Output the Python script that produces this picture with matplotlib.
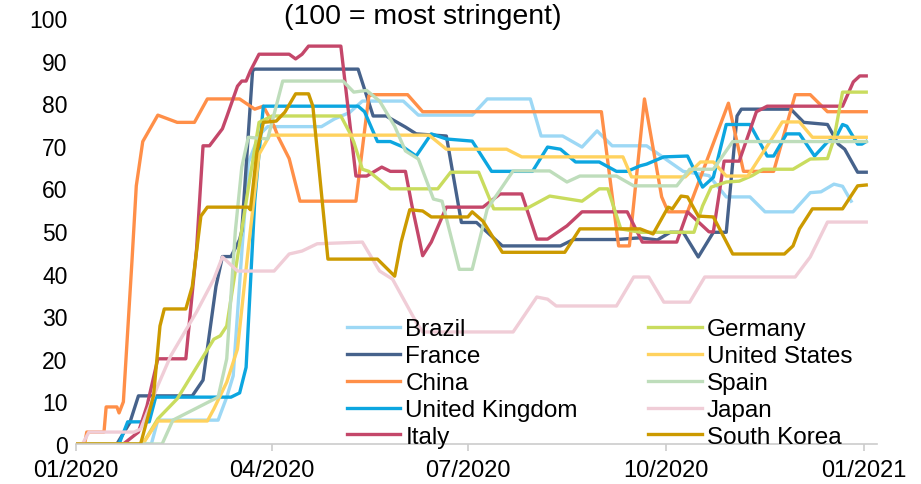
import numpy as np
import matplotlib
matplotlib.use("Agg")
import matplotlib.pyplot as plt
import matplotlib.dates as mdates

plt.rcParams['font.family'] = ['Liberation Sans', 'DejaVu Sans']

# Stringency index, breakpoints as (days since 2020-01-01, value)
brazil_days = [0, 35, 38, 66, 70, 73, 77, 80, 85, 89, 114, 120, 127, 133, 152, 159, 184, 191, 211, 216, 226, 235, 242, 249, 265, 282, 294, 302, 313, 320, 333, 341, 346, 352, 356, 360]
brazil_vals = [0, 0, 5.6, 5.6, 11, 16, 45, 66, 72.5, 74.5, 74.5, 76.3, 77.8, 80.5, 80.5, 77.2, 77.2, 81, 81, 72.3, 72.3, 69.7, 73.5, 70, 70, 64, 63, 58, 58, 54.5, 54.5, 59, 59.2, 61, 60.5, 57]

france_days = [0, 19, 25, 29, 54, 59, 65, 68, 72, 76, 77, 82, 83, 131, 138, 144, 153, 158, 172, 179, 186, 198, 225, 231, 251, 262, 270, 276, 282, 289, 296, 302, 307, 309, 332, 338, 349, 354, 357, 363, 367]
france_vals = [0, 0, 5, 11.3, 11.3, 15, 37, 44, 44, 48, 50, 87.6, 88, 88, 77, 77, 74.4, 72.8, 72.3, 52, 52, 46.5, 46.5, 48, 48, 48.4, 47.9, 49.7, 49.7, 43.9, 49.7, 49.7, 77, 78.6, 78.6, 75.5, 75, 70.4, 69.2, 63.8, 63.8]

china_days = [0, 4, 5, 13, 14, 19, 20, 22, 26, 28, 31, 38, 47, 55, 61, 76, 83, 87, 92, 94, 99, 104, 130, 136, 138, 154, 161, 244, 252, 257, 264, 272, 275, 284, 303, 310, 324, 334, 341, 349, 367]
china_vals = [0, 0, 2.8, 2.8, 8.7, 8.7, 7.3, 9.9, 43, 60.6, 71, 77.2, 75.5, 75.5, 81, 81, 78.6, 79.3, 74.6, 72, 67, 57, 57, 81.7, 82, 82, 78, 78, 46.5, 46.5, 81, 58, 54.5, 54.5, 80, 64, 64, 82, 82, 78, 78]

uk_days = [0, 20, 24, 34, 37, 72, 76, 79, 83, 87, 131, 134, 140, 146, 152, 158, 165, 172, 184, 193, 212, 219, 225, 232, 243, 251, 256, 262, 265, 273, 284, 291, 296, 302, 313, 321, 324, 330, 336, 343, 349, 353, 356, 358, 363, 365, 367]
uk_vals = [0, 0, 5.2, 5.2, 11, 11, 12, 18, 57, 79.3, 79.3, 78, 71, 71, 69.7, 67.6, 72.8, 71.6, 71.1, 64, 64, 69.7, 69.2, 66.2, 66.2, 64, 64, 65.3, 65.7, 67.4, 67.6, 60.3, 62.6, 75, 75, 67.6, 67.6, 72.8, 72.8, 67.6, 70.9, 72, 75, 74.6, 70.4, 70.4, 71]

italy_days = [0, 22, 29, 33, 38, 51, 56, 59, 62, 68, 70, 75, 77, 79, 81, 85, 99, 102, 105, 108, 123, 130, 135, 142, 146, 153, 156, 161, 165, 172, 189, 197, 207, 214, 219, 228, 235, 256, 263, 279, 284, 294, 296, 301, 308, 316, 321, 356, 361, 364, 367]
italy_vals = [0, 0, 2.8, 9, 20, 20, 45.8, 70, 70, 74, 76.8, 84, 85.2, 85.2, 87.6, 91.5, 91.5, 90.4, 91.5, 93.4, 93.4, 62.9, 62.9, 65, 64, 64, 56, 44.2, 47.4, 55.6, 55.6, 58.7, 58.7, 48.1, 48.1, 51.2, 54.5, 54.5, 47.4, 47.4, 54.5, 49.8, 49.8, 66.4, 66.4, 78, 79.3, 79.3, 85, 86.4, 86.4]

germany_days = [0, 31, 38, 47, 64, 67, 70, 80, 85, 91, 123, 127, 129, 133, 136, 146, 168, 174, 187, 194, 209, 220, 235, 243, 247, 253, 262, 287, 291, 295, 302, 308, 314, 319, 333, 341, 349, 352, 356, 367]
germany_vals = [0, 0, 5.9, 10.6, 24.6, 25.4, 27.7, 60, 75.5, 77, 77, 73.2, 70.9, 64.5, 64, 59.9, 59.9, 63.8, 63.8, 55.2, 55.2, 58.2, 57, 59.9, 59.9, 50.5, 49.7, 49.7, 55.9, 60.3, 61.5, 61.7, 63, 64.5, 64.5, 66.9, 67, 71.6, 82.6, 82.6]

us_days = [0, 31, 38, 61, 64, 70, 75, 80, 85, 90, 164, 172, 200, 207, 254, 258, 283, 290, 296, 302, 312, 324, 328, 336, 342, 367]
us_vals = [0, 0, 5.4, 5.4, 8.2, 14.5, 22.3, 45.8, 68, 72.5, 72.5, 69.2, 69.2, 67.4, 67.4, 62.7, 62.7, 66.2, 66.2, 62.9, 62.9, 72.3, 75.6, 75.6, 72, 72]

spain_days = [0, 40, 45, 66, 70, 74, 77, 80, 89, 96, 124, 129, 135, 141, 148, 153, 159, 166, 170, 178, 184, 191, 203, 220, 228, 234, 251, 259, 279, 285, 296, 305, 367]
spain_vals = [0, 0, 5.6, 11, 20, 50, 65, 72, 71.6, 85.2, 85.2, 82.6, 83, 80.5, 74.6, 68.8, 66.9, 57.5, 57, 41, 41, 55.2, 64.1, 64.1, 61.5, 62.9, 62.9, 60.6, 60.6, 64.5, 64.5, 71, 71]

japan_days = [0, 3, 6, 27, 30, 38, 44, 56, 64, 68, 75, 92, 99, 105, 112, 133, 141, 147, 158, 161, 203, 214, 219, 223, 251, 259, 266, 273, 285, 292, 334, 341, 349, 367]
japan_vals = [0, 0, 2.8, 2.8, 3.5, 13.7, 20.7, 31, 38.7, 43.9, 40.6, 40.6, 44.6, 45.3, 47, 47.4, 40.6, 38.7, 28.6, 26.3, 26.3, 34.5, 34, 32.4, 32.4, 39.2, 39.2, 33.3, 33.3, 39.2, 39.2, 43.9, 52.1, 52.1]

korea_days = [0, 30, 36, 39, 41, 51, 54, 58, 61, 80, 81, 84, 87, 93, 97, 102, 108, 110, 117, 140, 148, 151, 155, 161, 165, 182, 184, 189, 198, 227, 234, 262, 268, 275, 277, 281, 284, 289, 296, 305, 329, 333, 336, 342, 356, 363, 367]
korea_vals = [0, 0, 11.3, 27.7, 31.7, 31.7, 37, 53.5, 55.6, 55.6, 55, 68.5, 75.5, 75.8, 77.9, 82.2, 82.2, 79.3, 43.4, 43.4, 39.4, 47.4, 55, 54.7, 53.3, 53.3, 54.5, 52.3, 45, 45, 50.5, 50.5, 49.3, 55.6, 55.2, 58.2, 58, 53.5, 53.3, 44.6, 44.6, 46.5, 50.5, 55.2, 55.2, 60.6, 60.8]

countries = ["Brazil", "France", "China", "United Kingdom", "Italy",
             "Germany", "United States", "Spain", "Japan", "South Korea"]
series_days = [brazil_days, france_days, china_days, uk_days, italy_days,
               germany_days, us_days, spain_days, japan_days, korea_days]
series_vals = [brazil_vals, france_vals, china_vals, uk_vals, italy_vals,
               germany_vals, us_vals, spain_vals, japan_vals, korea_vals]
colors = ["#9DD8F5", "#46628B", "#FF8F48", "#0CA6E0", "#C4476A",
          "#C9DC5E", "#FFD25E", "#BEDDBB", "#F0CDD7", "#CC9A00"]

start = np.datetime64("2020-01-01")

fig = plt.figure(figsize=(9.21, 4.85), dpi=100)
ax = fig.add_axes([76 / 921, 40 / 485, (877 - 76) / 921, (445 - 19) / 485])

for name, d, v, c in zip(countries, series_days, series_vals, colors):
    x = start + np.array(d).astype("timedelta64[D]")
    ax.plot(x, v, color=c, lw=2.4, label=name, solid_joinstyle="round")

ax.set_ylim(0, 100)
ax.set_xlim(start, start + np.timedelta64(372, "D"))
ax.set_yticks(np.arange(0, 101, 10))
ax.set_xticks([np.datetime64(s) for s in ["2020-01-01", "2020-04-01", "2020-07-01", "2020-10-01", "2021-01-01"]])
ax.xaxis.set_major_formatter(mdates.DateFormatter("%m/%Y"))

for s in ["top", "right", "left"]:
    ax.spines[s].set_visible(False)
ax.spines["bottom"].set_color("#CCCCCC")
ax.spines["bottom"].set_linewidth(1.2)
ax.tick_params(axis="y", length=0, pad=6, labelsize=16.5)
ax.tick_params(axis="x", length=5, color="#CCCCCC", width=1.2, pad=6, labelsize=17)

fig.text(423 / 921, 1 - 17 / 485, "(100 = most stringent)", fontsize=20.5,
         ha="center", va="center")

ax.legend(ncol=2, frameon=False, fontsize=17.5, loc="lower left",
          bbox_to_anchor=(347 / 921, 36 / 485), bbox_transform=fig.transFigure,
          borderpad=0, borderaxespad=0, labelspacing=0.2, handlelength=2.2,
          handletextpad=0.2, columnspacing=2.9)

fig.savefig("out.png", dpi=100)
